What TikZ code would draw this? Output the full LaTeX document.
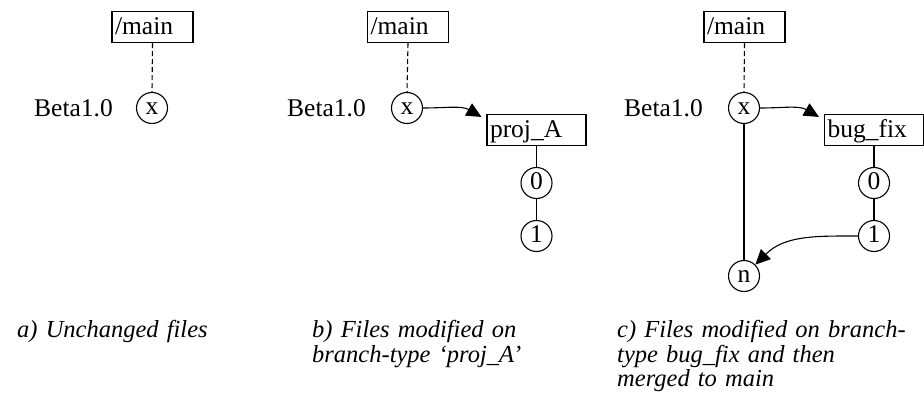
\documentclass[tikz,border=0pt]{standalone}
\usepackage{fontspec}
\setmainfont{Liberation Serif}
\usetikzlibrary{arrows.meta,calc}

\tikzset{
  every node/.style={font=\fontsize{25.5}{30}\selectfont},
  mainbox/.style={draw, rectangle, line width=1.1pt, inner xsep=3pt, inner ysep=0pt,
    minimum height=31pt, text width=75pt, align=left, text height=18pt, text depth=2pt},
  branchbox/.style={mainbox, text width=93pt},
  version/.style={draw, circle, line width=1.1pt, inner sep=0pt, minimum size=31pt,
    text height=14pt, text depth=0pt},
  tagtext/.style={anchor=base east, inner sep=0pt},
  caption/.style={anchor=base west, inner sep=0pt, text width=300pt, align=left,
    font=\fontsize{24.5}{25}\selectfont\itshape},
  link/.style={line width=1.1pt},
  dashlink/.style={line width=1.1pt, dash pattern=on 5pt off 3pt},
  branchto/.style={line width=1.1pt, -{Triangle[length=15pt,width=14pt]}},
}

\begin{document}
\begin{tikzpicture}[x=1pt,y=-1pt]
\useasboundingbox (0,0) rectangle (924,406);

% a) unchanged file
\node[mainbox] (mainA) at (152.5,27) {/main};
\node[version] (xA) at (152,108) {x};
\node[tagtext] (betaA) at ($(xA.center)+(-39,8.5)$) {Beta1.0};
\draw[dashlink] (mainA.south) -- (xA.north);

% b) file modified on branch proj_A
\node[mainbox] (mainB) at (408,27) {/main};
\node[version] (xB) at (407,108) {x};
\node[tagtext] (betaB) at ($(xB.center)+(-41,8.5)$) {Beta1.0};
\node[branchbox] (projA) at (536.5,130) {proj\_A};
\node[version] (b0) at (536.5,183) {0};
\node[version] (b1) at (536.5,236) {1};
\draw[dashlink] (mainB.south) -- (xB.north);
\draw[branchto] (xB.east) to[out=0,in=150] ([xshift=-5pt,yshift=-3pt]projA.north west);
\draw[link] (projA.south) -- (b0.north);
\draw[link] (b0.south) -- (b1.north);

% c) file modified on bug_fix and merged back
\node[mainbox] (mainC) at (744.5,27) {/main};
\node[version] (xC) at (744,108) {x};
\node[tagtext] (betaC) at ($(xC.center)+(-41,8.5)$) {Beta1.0};
\node[branchbox] (bugfix) at (874,130) {bug\_fix};
\node[version] (c0) at (874,183) {0};
\node[version] (c1) at (874,236) {1};
\node[version] (nC) at (744,276) {n};
\draw[dashlink] (mainC.south) -- (xC.north);
\draw[branchto] (xC.east) to[out=0,in=150] ([xshift=-5pt,yshift=-3pt]bugfix.north west);
\draw[link] (bugfix.south) -- (c0.north);
\draw[link] (c0.south) -- (c1.north);
\draw[link] (xC.south) -- (nC.north);
\draw[branchto] (c1.west) to[out=180,in=45] (nC);

% captions
\node[caption] (capA) at (17,337) {a) Unchanged files};
\node[caption] (capB) at (312,337) {b) Files modified on\\branch-type `proj\_A'};
\node[caption] (capC) at (617,337) {c) Files modified on branch-\\type bug\_fix and then\\merged to main};
\end{tikzpicture}
\end{document}
